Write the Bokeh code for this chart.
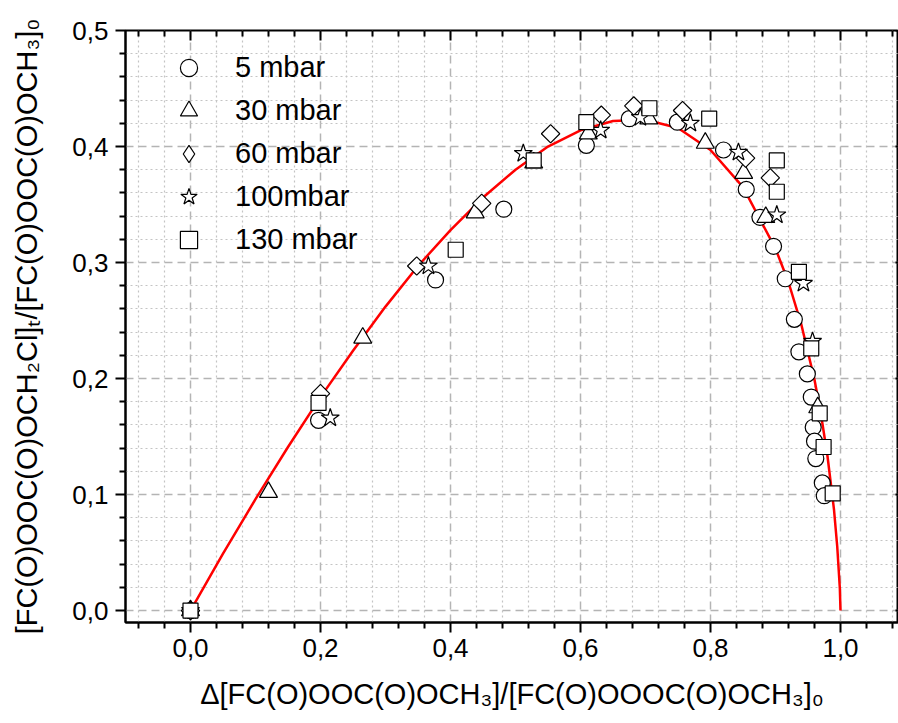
import numpy as np
from bokeh.plotting import figure
from bokeh.models import (Legend, LegendItem, FixedTicker,
                          CustomJSTickFormatter, Range1d)
from bokeh.embed import file_html
from bokeh.resources import INLINE

# ---------------- data ----------------
c5_x = [0.0, 0.197, 0.377, 0.482, 0.609, 0.675, 0.749, 0.820, 0.855, 0.876,
        0.897, 0.915, 0.929, 0.936, 0.949, 0.955, 0.958, 0.960, 0.962, 0.972, 0.975]
c5_y = [0.0, 0.164, 0.285, 0.346, 0.401, 0.424, 0.421, 0.397, 0.363, 0.339,
        0.314, 0.286, 0.251, 0.223, 0.204, 0.184, 0.158, 0.146, 0.131, 0.110, 0.099]

t30_x = [0.0, 0.120, 0.265, 0.438, 0.528, 0.612, 0.705, 0.792, 0.851, 0.885, 0.965]
t30_y = [0.0, 0.102, 0.235, 0.343, 0.386, 0.411, 0.424, 0.403, 0.377, 0.339, 0.175]

d60_x = [0.0, 0.200, 0.348, 0.448, 0.554, 0.632, 0.682, 0.757, 0.854, 0.892]
d60_y = [0.0, 0.187, 0.297, 0.351, 0.411, 0.427, 0.435, 0.431, 0.390, 0.373]

s100_x = [0.0, 0.215, 0.366, 0.512, 0.631, 0.692, 0.769, 0.843, 0.902, 0.943, 0.957]
s100_y = [0.0, 0.166, 0.297, 0.394, 0.414, 0.425, 0.420, 0.395, 0.341, 0.282, 0.232]

q130_x = [0.0, 0.197, 0.408, 0.528, 0.609, 0.706, 0.798, 0.902, 0.902, 0.936,
          0.955, 0.968, 0.974, 0.988]
q130_y = [0.0, 0.179, 0.311, 0.388, 0.421, 0.433, 0.424, 0.388, 0.361, 0.292,
          0.226, 0.170, 0.141, 0.101]

fit_x = [0.0, 0.05, 0.1, 0.15, 0.2, 0.25, 0.3, 0.35, 0.4, 0.45, 0.5, 0.55, 0.6,
         0.65, 0.7, 0.75, 0.8, 0.85, 0.9, 0.92, 0.94, 0.96, 0.97, 0.98, 0.99,
         0.995, 0.999, 1.0]
fit_y = [0.0, 0.049, 0.096, 0.141, 0.184, 0.224, 0.262, 0.297, 0.328, 0.356,
         0.380, 0.400, 0.414, 0.422, 0.423, 0.416, 0.397, 0.365, 0.312, 0.283,
         0.246, 0.199, 0.169, 0.133, 0.087, 0.055, 0.019, 0.0]

series_labels = ["5 mbar", "30 mbar", "60 mbar", "100mbar", "130 mbar"]

x_ticks = [0.0, 0.2, 0.4, 0.6, 0.8, 1.0]
x_tick_labels = ["0,0", "0,2", "0,4", "0,6", "0,8", "1,0"]
x_minor = [-0.08, -0.04, 0.04, 0.08, 0.12, 0.16, 0.24, 0.28, 0.32, 0.36, 0.44, 0.48,
           0.52, 0.56, 0.64, 0.68, 0.72, 0.76, 0.84, 0.88, 0.92, 0.96, 1.04, 1.08]
y_ticks = [0.0, 0.1, 0.2, 0.3, 0.4, 0.5]
y_tick_labels = ["0,0", "0,1", "0,2", "0,3", "0,4", "0,5"]
y_minor = [0.02, 0.04, 0.06, 0.08, 0.12, 0.14, 0.16, 0.18, 0.22, 0.24, 0.26, 0.28,
           0.32, 0.34, 0.36, 0.38, 0.42, 0.44, 0.46, 0.48]

x_title = "Δ[FC(O)OOC(O)OCH₃]/[FC(O)OOOC(O)OCH₃]₀"
y_title = "[FC(O)OOC(O)OCH₂Cl]ₜ/[FC(O)OOC(O)OCH₃]₀"

# ---------------- layout constants ----------------
FONT = "Liberation Sans"
W, H = 898, 723
BL, BR, BT, BB = 125, 0, 30, 101
FW, FH = W - BL - BR, H - BT - BB
PX_PER_X = 650.0                       # pixels per x unit
X0, Y0, Y1 = -0.1, -0.0103, 0.5
X1 = X0 + FW / PX_PER_X
AXIS_X_RIGHT = 1.1                     # right axis sits just outside the picture
ux = 1.0 / PX_PER_X                    # one pixel in x units
uy = (Y1 - Y0) / FH                    # one pixel in y units

p = figure(width=W, height=H,
           x_range=Range1d(X0, X1), y_range=Range1d(Y0, Y1),
           output_backend="svg", toolbar_location=None,
           min_border_left=BL, min_border_right=BR,
           min_border_top=BT, min_border_bottom=BB)
p.background_fill_color = "white"
p.border_fill_color = "white"
p.outline_line_color = "black"
p.outline_line_width = 2

fmt_js = """
const i = tv.findIndex(t => Math.abs(t - tick) < 1e-9);
return i >= 0 ? tl[i] : "";
"""
xfmt = CustomJSTickFormatter(args=dict(tv=x_ticks, tl=x_tick_labels), code=fmt_js)
yfmt = CustomJSTickFormatter(args=dict(tv=y_ticks, tl=y_tick_labels), code=fmt_js)


def style_axis(ax):
    ax.axis_line_width = 2
    ax.axis_line_color = "black"
    ax.major_tick_line_width = 2
    ax.minor_tick_line_width = 2
    ax.major_tick_line_color = "black"
    ax.minor_tick_line_color = "black"
    ax.major_tick_out = 10
    ax.major_tick_in = 0
    ax.minor_tick_out = 6
    ax.minor_tick_in = 0
    ax.major_label_text_font = FONT
    ax.major_label_text_color = "black"
    ax.major_label_text_font_size = "26px"
    ax.axis_label_text_font = FONT
    ax.axis_label_text_font_style = "normal"
    ax.axis_label_text_color = "black"
    ax.axis_label_text_font_size = "29px"


xa = p.xaxis[0]
xa.ticker = FixedTicker(ticks=x_ticks, minor_ticks=x_minor)
xa.formatter = xfmt
style_axis(xa)
xa.major_label_standoff = 6
xa.axis_label = x_title
xa.axis_label_standoff = 18

ya = p.yaxis[0]
ya.ticker = FixedTicker(ticks=y_ticks, minor_ticks=y_minor)
ya.formatter = yfmt
style_axis(ya)
ya.major_label_standoff = 7
ya.major_label_orientation = "horizontal"
ya.axis_label = y_title
ya.axis_label_standoff = 26

for g in (p.xgrid[0], p.ygrid[0]):
    g.grid_line_color = "#b4b4b4"
    g.grid_line_width = 1.5
    g.grid_line_dash = "8 5"
    g.minor_grid_line_color = "#c4c4c4"
    g.minor_grid_line_width = 1.2
    g.minor_grid_line_dash = "2 3"

# mirrored ticks (inward) on the top and right frame edges
tick_style = dict(line_color="black", line_width=2)
p.segment(x0=x_ticks, y0=[Y1] * len(x_ticks), x1=x_ticks,
          y1=[Y1 - 10 * uy] * len(x_ticks), **tick_style)
p.segment(x0=x_minor, y0=[Y1] * len(x_minor), x1=x_minor,
          y1=[Y1 - 6 * uy] * len(x_minor), **tick_style)
p.segment(x0=[AXIS_X_RIGHT] * len(y_ticks), y0=y_ticks,
          x1=[AXIS_X_RIGHT - 10 * ux] * len(y_ticks), y1=y_ticks, **tick_style)

# ---------------- glyphs ----------------
p.line(fit_x, fit_y, line_color="#ff0000", line_width=2.5)

mk = dict(fill_color="white", line_color="black", line_width=1.2)
r1 = p.scatter(c5_x, c5_y, marker="circle", size=16, **mk)
r2 = p.scatter(t30_x, t30_y, marker="triangle", size=18, **mk)
r3 = p.scatter(d60_x, d60_y, marker="square", angle=np.pi / 4, size=13, **mk)
r4 = p.scatter(s100_x, s100_y, marker="star", size=19, **mk)
r5 = p.scatter(q130_x, q130_y, marker="square", size=15, **mk)
# legend key for the diamonds (legend keys are never rotated)
r3_key = p.scatter(d60_x, d60_y, marker="diamond", size=18, visible=False, **mk)

legend = Legend(
    items=[LegendItem(label=lab, renderers=[r])
           for lab, r in zip(series_labels, [r1, r2, r3_key, r4, r5])],
    location=(42, 361), orientation="vertical",
    glyph_width=43, glyph_height=43, label_height=43, spacing=-4,
    label_standoff=25, padding=0, margin=0,
    border_line_color=None, background_fill_alpha=0,
    inactive_fill_alpha=0,
    label_text_font=FONT, label_text_font_size="29px", label_text_color="black",
)
p.add_layout(legend)

open("out.html", "w").write(file_html(p, INLINE))
